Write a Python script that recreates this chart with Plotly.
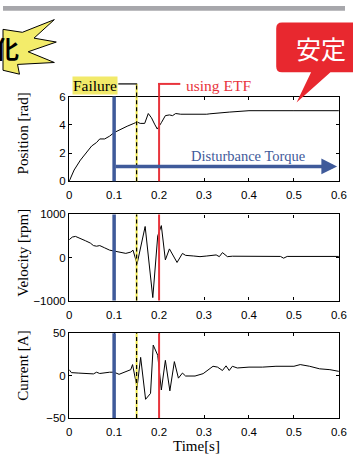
import plotly.graph_objects as go

# ---------------- data ----------------
t_pos = [0, 0.011, 0.025, 0.036, 0.05, 0.061, 0.068, 0.079, 0.09, 0.1, 0.115, 0.129, 0.144,
         0.151, 0.158, 0.168, 0.176, 0.183, 0.19, 0.196, 0.205, 0.214, 0.223, 0.23, 0.237,
         0.248, 0.306, 0.313, 0.356, 0.38, 0.4, 0.5, 0.6]
position = [0, 0.8, 1.5, 1.95, 2.5, 2.75, 3.0, 3.0, 3.2, 3.45, 3.7, 3.9, 4.1,
            4.2, 4.1, 4.1, 4.8, 4.5, 4.05, 3.7, 4.15, 4.65, 4.7, 4.65, 4.8,
            4.75, 4.75, 4.78, 4.9, 4.97, 5.0, 5.0, 5.0]

t_vel = [0, 0.007, 0.014, 0.025, 0.036, 0.047, 0.054, 0.061, 0.068, 0.079, 0.09, 0.1, 0.115,
         0.126, 0.137, 0.142, 0.151, 0.169, 0.186, 0.197, 0.205, 0.214, 0.223, 0.24, 0.252,
         0.259, 0.277, 0.291, 0.306, 0.327, 0.334, 0.341, 0.352, 0.363, 0.47, 0.477, 0.485, 0.6]
velocity = [413, 475, 490, 430, 390, 336, 277, 262, 277, 224, 171, 150, 111,
            96, 126, 171, -150, 720, -930, 500, 740, -55, 200, -115, 95,
            50, 35, 20, 35, 60, 20, 114, 20, 30, 25, -15, 25, 25]

t_cur = [0, 0.005, 0.02, 0.04, 0.054, 0.061, 0.068, 0.09, 0.1, 0.111, 0.122, 0.137, 0.141,
         0.151, 0.159, 0.17, 0.181, 0.187, 0.197, 0.205, 0.214, 0.224, 0.234, 0.243, 0.252,
         0.259, 0.28, 0.298, 0.32, 0.33, 0.341, 0.349, 0.356, 0.363, 0.374, 0.4, 0.43, 0.46,
         0.5, 0.514, 0.535, 0.557, 0.58, 0.6]
current = [7, 3.5, 3, 2.5, 2, 4, 2.5, 4, 4, 1.5, 4, 7, 13,
           -14, 21.5, -28, -21, 36, 24, -17, 18, -18, 16.5, -3, 3,
           -0.5, -0.5, 2.3, 11, 10, 6, 11.5, 6, 11, 9, 10, 10, 11,
           11, 13, 11, 8, 7, 5]

x_ticks = [0, 0.1, 0.2, 0.3, 0.4, 0.5, 0.6]
pos_ticks = [0, 2, 4, 6]
vel_ticks = [-1000, 0, 1000]
cur_ticks = [-50, 0, 50]

t_disturb = 0.1
t_failure = 0.15
t_etf = 0.2

# ---------------- layout helpers ----------------
W, H = 353, 460
def px(x):
    return x / W
def py(y):
    return 1 - y / H

BLUE = "#3f5a9a"
RED = "#e8343c"
YEL = "#f2ea4a"
SERIF = "Liberation Serif, Times New Roman, serif"
SANS = "Liberation Sans, Arial, sans-serif"

xdom = [px(68.3), px(346.7)]
ydoms = [[py(180), py(93)], [py(302.5), py(214)], [py(423), py(336)]]

fig = go.Figure()
fig.add_trace(go.Scatter(x=t_pos, y=position, mode="lines", line=dict(color="black", width=1),
                         xaxis="x", yaxis="y", showlegend=False))
fig.add_trace(go.Scatter(x=t_vel, y=velocity, mode="lines", line=dict(color="black", width=1),
                         xaxis="x2", yaxis="y2", showlegend=False))
fig.add_trace(go.Scatter(x=t_cur, y=current, mode="lines", line=dict(color="black", width=1),
                         xaxis="x3", yaxis="y3", showlegend=False))

axcommon = dict(showline=True, linecolor="black", linewidth=1.3, mirror="allticks",
                ticks="inside", ticklen=3, tickcolor="black", showgrid=False, zeroline=False,
                ticklabeloverflow="allow",
                tickfont=dict(family=SANS, size=11.5, color="black"))

layout = dict(width=W, height=H, margin=dict(l=0, r=0, t=0, b=0), autosize=False,
              paper_bgcolor="white", plot_bgcolor="white")
yr = [[0, 6], [-1000, 1000], [-50, 50]]
yt = [pos_ticks, vel_ticks, cur_ticks]
for i in range(3):
    sx = "" if i == 0 else str(i + 1)
    layout["xaxis" + sx] = dict(domain=xdom, range=[0, 0.6], anchor="y" + sx,
                                tickvals=x_ticks, ticktext=[str(v) if v else "0" for v in x_ticks],
                                ticklabelstandoff=3, **axcommon)
    layout["yaxis" + sx] = dict(domain=ydoms[i], range=yr[i], anchor="x" + sx,
                                tickvals=yt[i], **axcommon)
fig.update_layout(**layout)

shapes = []
# top grey band
shapes.append(dict(type="rect", xref="paper", yref="paper", x0=0, x1=1, y0=py(5), y1=1,
                   fillcolor="#a7a7ab", line=dict(width=0)))
# starburst
star = [(0, 24), (20, 27), (53, 14), (32, 33), (55, 37), (26, 47), (53, 58), (15, 60),
        (17, 70), (0, 66)]
path = "M " + " L ".join(f"{px(x):.5f},{py(y):.5f}" for x, y in star) + " Z"
shapes.append(dict(type="path", xref="paper", yref="paper", path=path,
                   fillcolor="#f3ec6a", line=dict(color="black", width=1)))
# red callout
cp = [("M", 288, 17), ("L", 362, 17), ("L", 362, 68), ("L", 338, 68), ("L", 303, 99),
      ("L", 318, 68), ("L", 288, 68)]
cpath = " ".join(f"{c} {px(x):.5f},{py(y):.5f}" for c, x, y in cp)
cpath += f" Q {px(282):.5f},{py(68):.5f} {px(282):.5f},{py(62):.5f}"
cpath += f" L {px(282):.5f},{py(23):.5f}"
cpath += f" Q {px(282):.5f},{py(17):.5f} {px(288):.5f},{py(17):.5f} Z"
shapes.append(dict(type="path", xref="paper", yref="paper", path=cpath,
                   fillcolor="#e8282f", line=dict(width=0), layer="above"))

# vertical event lines in every panel
for i in range(3):
    sx = "" if i == 0 else str(i + 1)
    shapes.append(dict(type="line", xref="x" + sx, yref=f"y{sx} domain", x0=t_disturb, x1=t_disturb,
                       y0=0, y1=1, line=dict(color=BLUE, width=3.5)))
    shapes.append(dict(type="line", xref="x" + sx, yref=f"y{sx} domain", x0=t_failure, x1=t_failure,
                       y0=0, y1=1, line=dict(color=YEL, width=2)))
    shapes.append(dict(type="line", xref="x" + sx, yref=f"y{sx} domain", x0=t_failure, x1=t_failure,
                       y0=0, y1=1, line=dict(color="black", width=1.2, dash="4px,3px")))
    shapes.append(dict(type="line", xref="x" + sx, yref=f"y{sx} domain", x0=t_etf, x1=t_etf,
                       y0=0, y1=1, line=dict(color=RED, width=2)))

# leaders above the top panel
ytop = ydoms[0][1]
ylead = py(80)
shapes.append(dict(type="line", xref="x", yref="paper", x0=t_failure, x1=t_failure, y0=ytop, y1=ylead,
                   line=dict(color=YEL, width=2)))
shapes.append(dict(type="line", xref="x", yref="paper", x0=t_failure, x1=t_failure, y0=ytop, y1=ylead,
                   line=dict(color="black", width=1.2, dash="4px,3px")))
shapes.append(dict(type="line", xref="paper", yref="paper", x0=px(119), x1=px(138.5), y0=ylead, y1=ylead,
                   line=dict(color="black", width=1.2)))
shapes.append(dict(type="line", xref="x", yref="paper", x0=t_etf, x1=t_etf, y0=ytop, y1=ylead,
                   line=dict(color=RED, width=2)))
shapes.append(dict(type="line", xref="paper", yref="paper", x0=px(160), x1=px(183), y0=ylead, y1=ylead,
                   line=dict(color=RED, width=2)))
fig.update_layout(shapes=shapes)

ann = []
# disturbance torque arrow
ann.append(dict(x=0.596, y=1.05, ax=t_disturb, ay=1.05, xref="x", yref="y", axref="x", ayref="y",
                text="", showarrow=True, arrowhead=2, arrowsize=0.9, arrowwidth=3.5,
                arrowcolor=BLUE, standoff=0, startstandoff=0))
ann.append(dict(x=px(252.5), y=py(154), xref="paper", yref="paper", text="Disturbance Torque",
                showarrow=False, font=dict(family=SERIF, size=14.5, color=BLUE),
                xanchor="center", yanchor="middle"))
ann.append(dict(x=px(94.5), y=py(82), xref="paper", yref="paper", text="Failure",
                showarrow=False, font=dict(family=SERIF, size=15.5, color="black"),
                bgcolor="#f2ea6a", borderpad=0, xanchor="center", yanchor="middle"))
ann.append(dict(x=px(187), y=py(82), xref="paper", yref="paper", text="using ETF",
                showarrow=False, font=dict(family=SERIF, size=15.5, color=RED),
                xanchor="left", yanchor="middle"))
# axis titles
for txt, yc in [("Position [rad]", 130.5), ("Velocity [rpm]", 253), ("Current [A]", 369)]:
    ann.append(dict(x=px(21), y=py(yc), xref="paper", yref="paper", text=txt, textangle=-90,
                    showarrow=False, font=dict(family=SERIF, size=15, color="black"),
                    xanchor="center", yanchor="middle"))
ann.append(dict(x=px(200), y=py(452), xref="paper", yref="paper", text="Time[s]",
                showarrow=False, font=dict(family=SERIF, size=15, color="black"),
                xanchor="center", yanchor="middle"))
# decorative labels
ann.append(dict(x=px(4), y=py(43), xref="paper", yref="paper", text="<b>化</b>",
                showarrow=False, font=dict(family="Noto Sans CJK JP", size=24, color="black"),
                xanchor="center", yanchor="middle"))
ann.append(dict(x=px(328), y=py(43), xref="paper", yref="paper", text="安定",
                showarrow=False, font=dict(family="Noto Sans CJK JP", size=25, color="white"),
                xanchor="center", yanchor="middle"))
fig.update_layout(annotations=ann)

fig.write_html("out.html", config={"displayModeBar": False},
               post_script="document.body.style.margin='0';document.body.style.overflow='hidden';"
                           "document.documentElement.style.overflow='hidden';")
